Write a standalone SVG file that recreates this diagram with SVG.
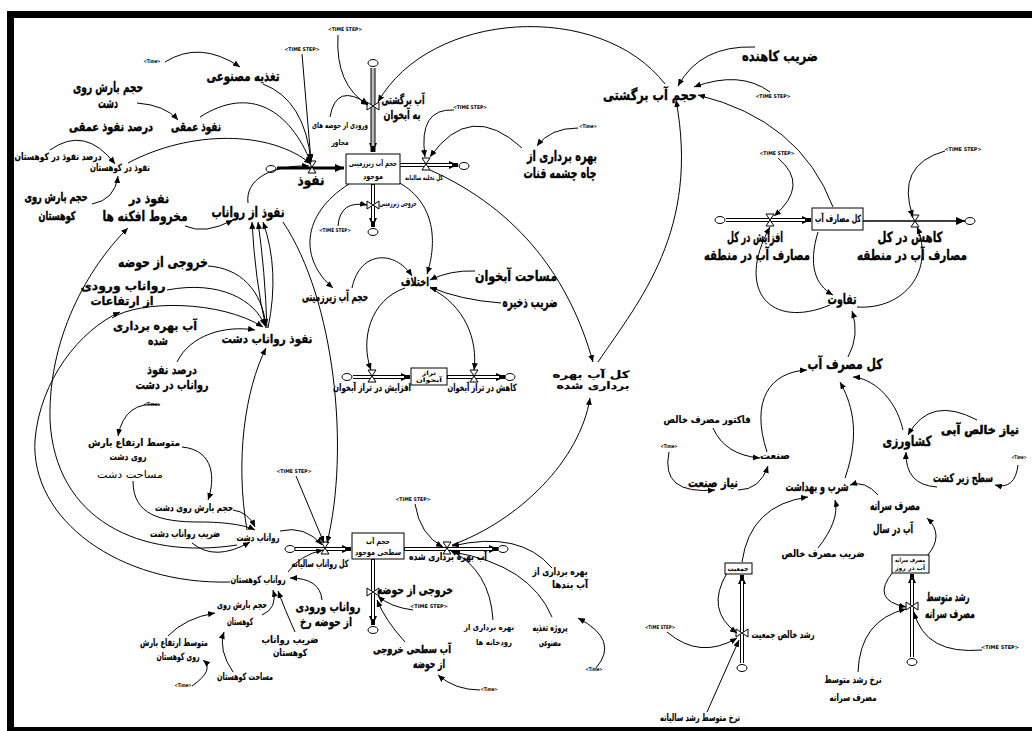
<svg xmlns="http://www.w3.org/2000/svg" xmlns:xlink="http://www.w3.org/1999/xlink" width="1032" height="731" viewBox="0 0 1032 731">
<style>
text{font-family:"DejaVu Sans",sans-serif;font-weight:bold;text-anchor:middle;dominant-baseline:middle;fill:#000}
.L{font-size:14px;stroke:#000;stroke-width:0.35px}.M{font-size:12px;stroke:#000;stroke-width:0.3px}.S{font-size:10px;stroke:#000;stroke-width:0.15px}.X{font-size:8px}.T{font-size:5px}
.n{font-weight:normal;stroke:none}
.c{fill:none;stroke:#000;stroke-width:1;marker-end:url(#ah)}
.po{fill:none;stroke:#000;stroke-width:4}
.pi{fill:none;stroke:#fff;stroke-width:2}
.box{fill:#fff;stroke:#000;stroke-width:1}
</style>
<defs>
<marker id="ah" markerUnits="userSpaceOnUse" markerWidth="8" markerHeight="6" refX="7" refY="3" orient="auto"><path d="M0,0 L7,3 L0,6 z" fill="#000"/></marker>
<marker id="pa" markerUnits="userSpaceOnUse" markerWidth="10" markerHeight="8" refX="9" refY="4" orient="auto"><path d="M0,0 L9,4 L0,8 z" fill="#000"/></marker>
<path id="vh" d="M-4,-6 L4,-6 L-4,6 L4,6 Z" fill="#fff" stroke="#000" stroke-width="1"/>
<path id="vv" d="M-6,-4 L-6,4 L6,-4 L6,4 Z" fill="#fff" stroke="#000" stroke-width="1"/>
<ellipse id="cl" cx="0" cy="0" rx="5" ry="3.5" fill="#fff" stroke="#000" stroke-width="1"/>
</defs>
<rect width="1032" height="731" fill="#fff"/>
<g id="frame">
<rect x="7" y="11" width="1025" height="7" fill="#000"/>
<rect x="7" y="11" width="7" height="720" fill="#000"/>
<rect x="7" y="727" width="1025" height="4" fill="#000"/>
</g>

<g id="flows">
<path d="M277,168 L344,168" stroke="#000" stroke-width="3" fill="none" marker-end="url(#pa)"/>
<path d="M373,68 L373,152" stroke="#000" stroke-width="5" fill="none" marker-end="url(#pa)"/>
<path d="M373,68 L373,146" stroke="#bbb" stroke-width="3" fill="none"/>
<path class="po" d="M400,165 L458,165" marker-end="url(#pa)"/><path class="pi" d="M400,165 L452,165"/>
<path class="po" d="M373,184 L373,227" marker-end="url(#pa)"/><path class="pi" d="M373,185 L373,221"/>
<path class="po" d="M353,377 L410,377" marker-end="url(#pa)"/><path class="pi" d="M353,377 L404,377"/>
<path class="po" d="M447,377 L505,377" marker-end="url(#pa)"/><path class="pi" d="M448,377 L499,377"/>
<path class="po" d="M295,549 L351,549" marker-end="url(#pa)"/><path class="pi" d="M295,549 L345,549"/>
<path class="po" d="M404,549 L498,549" marker-end="url(#pa)"/><path class="pi" d="M405,549 L492,549"/>
<path class="po" d="M373,559 L373,625" marker-end="url(#pa)"/><path class="pi" d="M373,560 L373,619"/>
<path class="po" d="M726,220 L811,220" marker-end="url(#pa)"/><path class="pi" d="M726,220 L805,220"/>
<path d="M863,221 L965,221" stroke="#000" stroke-width="1.5" fill="none" marker-end="url(#pa)"/>
<path class="po" d="M742,663 L742,575" marker-end="url(#pa)"/><path class="pi" d="M742,663 L742,581"/>
<path class="po" d="M912,657 L912,574" marker-end="url(#pa)"/><path class="pi" d="M912,657 L912,580"/>
<use href="#cl" x="271" y="169"/><use href="#cl" x="373" y="63"/><use href="#cl" x="464" y="166"/><use href="#cl" x="373" y="232"/>
<use href="#cl" x="347" y="377"/><use href="#cl" x="510" y="377"/><use href="#cl" x="290" y="549"/><use href="#cl" x="503" y="549"/>
<use href="#cl" x="373" y="630"/><use href="#cl" x="720" y="220"/><use href="#cl" x="970" y="221"/><use href="#cl" x="742" y="668"/><use href="#cl" x="912" y="662"/>
<use href="#vh" x="312" y="167"/><use href="#vv" x="373" y="106"/><use href="#vh" x="426" y="164"/><use href="#vv" x="373" y="205"/>
<use href="#vh" x="372" y="376"/><use href="#vh" x="474" y="376"/><use href="#vh" x="325" y="548"/><use href="#vh" x="447" y="548"/>
<use href="#vv" x="373" y="592"/><use href="#vh" x="770" y="220"/><use href="#vh" x="915" y="221"/><use href="#vv" x="742" y="633"/><use href="#vv" x="912" y="606"/>
</g>

<g id="connectors">
<path class="c" d="M165,62 Q200,40 240,67"/>
<path class="c" d="M263,84 Q305,100 311,162"/>
<path class="c" d="M302,54 L311,161"/>
<path class="c" d="M338,35 Q335,85 368,105"/>
<path class="c" d="M330,117 Q336,82 368,104"/>
<path class="c" d="M665,84 C600,0 430,10 378,102"/>
<path class="c" d="M200,117 C250,85 290,110 311,163"/>
<path class="c" d="M128,163 C190,130 270,130 311,164"/>
<path class="c" d="M248,203 C245,180 270,165 309,166"/>
<path class="c" d="M137,103 Q165,105 178,120"/>
<path class="c" d="M50,150 Q85,125 115,164"/>
<path class="c" d="M92,204 Q115,200 118,176"/>
<path class="c" d="M185,226 Q205,235 233,220"/>
<path class="c" d="M266,328 Q255,280 252,222"/>
<path class="c" d="M267,328 Q265,270 258,222"/>
<path class="c" d="M268,328 Q280,270 263,222"/>
<path class="c" d="M208,266 C240,268 262,290 266,326"/>
<path class="c" d="M167,290 C220,280 255,300 265,326"/>
<path class="c" d="M112,318 C140,300 220,300 263,327"/>
<path class="c" d="M177,362 C190,335 225,325 255,330"/>
<path class="c" d="M247,530 C235,460 245,390 266,348"/>
<path class="c" d="M283,222 C335,300 350,450 327,543"/>
<path class="c" d="M230,582 C120,585 30,520 35,440 C40,380 80,330 120,312"/>
<path class="c" d="M237,545 C140,560 55,520 50,420 C48,330 95,260 128,228"/>
<path class="c" d="M160,405 Q125,400 118,436"/>
<path class="c" d="M182,447 C215,450 215,480 208,500"/>
<path class="c" d="M133,481 C133,515 160,522 200,522 C225,522 245,525 255,530"/>
<path class="c" d="M233,510 Q248,512 255,527"/>
<path class="c" d="M192,543 Q215,562 250,542"/>
<path class="c" d="M280,531 Q305,525 322,545"/>
<path class="c" d="M288,572 Q300,555 323,550"/>
<path class="c" d="M296,476 L324,543"/>
<path class="c" d="M262,615 Q278,608 273,590"/>
<path class="c" d="M322,600 Q320,578 290,578"/>
<path class="c" d="M295,632 Q285,610 278,591"/>
<path class="c" d="M233,672 Q218,650 224,632"/>
<path class="c" d="M168,636 Q185,618 215,613"/>
<path class="c" d="M192,686 Q215,670 203,660"/>
<path class="c" d="M349,184 C300,215 300,260 333,288"/>
<path class="c" d="M398,182 C440,205 435,250 427,274"/>
<path class="c" d="M352,288 C360,250 395,250 412,276"/>
<path class="c" d="M475,271 Q450,270 430,280"/>
<path class="c" d="M501,303 Q460,300 430,287"/>
<path class="c" d="M405,288 C370,300 360,340 371,370"/>
<path class="c" d="M430,288 C465,305 478,340 474,370"/>
<path class="c" d="M338,226 Q340,200 367,205"/>
<path class="c" d="M522,148 Q470,100 430,157"/>
<path class="c" d="M454,110 Q418,108 425,157"/>
<path class="c" d="M578,128 Q550,128 537,146"/>
<path class="c" d="M430,170 C520,210 570,280 593,362"/>
<path class="c" d="M598,362 C640,300 700,230 676,100"/>
<path class="c" d="M452,545 C520,520 580,460 590,398"/>
<path class="c" d="M415,504 Q420,535 443,547"/>
<path class="c" d="M552,568 Q520,530 452,546"/>
<path class="c" d="M493,620 Q490,570 450,550"/>
<path class="c" d="M552,617 Q530,565 453,552"/>
<path class="c" d="M596,668 Q620,640 578,618"/>
<path class="c" d="M413,610 Q390,607 378,596"/>
<path class="c" d="M405,642 Q385,620 377,600"/>
<path class="c" d="M480,690 Q455,690 438,675"/>
<path class="c" d="M755,47 Q700,45 678,86"/>
<path class="c" d="M770,92 Q740,70 694,87"/>
<path class="c" d="M833,207 Q800,120 698,95"/>
<path class="c" d="M778,158 Q810,185 774,216"/>
<path class="c" d="M945,151 Q895,165 913,217"/>
<path class="c" d="M818,232 C808,265 815,285 833,295"/>
<path class="c" d="M830,305 C770,330 735,290 770,227"/>
<path class="c" d="M857,307 C905,310 935,270 917,227"/>
<path class="c" d="M848,357 Q860,335 852,311"/>
<path class="c" d="M767,452 C750,400 770,372 807,370"/>
<path class="c" d="M845,478 C862,430 850,400 840,382"/>
<path class="c" d="M903,430 C895,395 870,378 853,377"/>
<path class="c" d="M713,428 Q725,455 760,458"/>
<path class="c" d="M977,420 Q930,395 908,435"/>
<path class="c" d="M937,487 Q905,485 906,452"/>
<path class="c" d="M1018,465 Q1015,490 995,485"/>
<path class="c" d="M669,452 Q660,495 715,490"/>
<path class="c" d="M738,490 Q760,490 768,466"/>
<path class="c" d="M742,562 Q750,505 808,497"/>
<path class="c" d="M818,548 Q840,520 835,500"/>
<path class="c" d="M878,495 Q865,480 850,485"/>
<path class="c" d="M927,556 Q945,535 927,518"/>
<path class="c" d="M727,573 Q705,610 737,633"/>
<path class="c" d="M667,632 Q700,660 737,638"/>
<path class="c" d="M707,712 L739,640"/>
<path class="c" d="M893,572 Q870,600 906,607"/>
<path class="c" d="M858,672 Q860,620 906,609"/>
<path class="c" d="M982,650 Q925,655 914,612"/>
</g>

<g id="stock-groundwater"><rect class="box" x="346" y="154" width="54" height="30"/><text class="X" x="373" y="163" textLength="48" lengthAdjust="spacingAndGlyphs">حجم آب زیرزمینی</text><text class="X" x="373" y="176" textLength="20" lengthAdjust="spacingAndGlyphs">موجود</text></g>
<g id="stock-totaluse"><rect class="box" x="812" y="208" width="51" height="22"/><text class="S" x="838" y="219" textLength="46" lengthAdjust="spacingAndGlyphs">کل مصارف آب</text></g>
<g id="stock-level"><rect class="box" x="411" y="368" width="36" height="17"/><text style="font-size:6px" x="429" y="373" textLength="14" lengthAdjust="spacingAndGlyphs">تراز</text><text style="font-size:6px" x="429" y="380" textLength="26" lengthAdjust="spacingAndGlyphs">آبخوان</text></g>
<g id="stock-surface"><rect class="box" x="352" y="533" width="52" height="26"/><text class="X" x="378" y="541" textLength="24" lengthAdjust="spacingAndGlyphs">حجم آب</text><text class="X" x="378" y="552" textLength="46" lengthAdjust="spacingAndGlyphs">سطحی موجود</text></g>
<g id="stock-pop"><rect class="box" x="725" y="563" width="27" height="11"/><text style="font-size:7px" x="738" y="569" textLength="21" lengthAdjust="spacingAndGlyphs">جمعیت</text></g>
<g id="stock-percap"><rect class="box" x="892" y="555" width="37" height="18"/><text style="font-size:6px" x="910" y="560" textLength="30" lengthAdjust="spacingAndGlyphs">مصرف سرانه</text><text style="font-size:6px" x="910" y="568" textLength="30" lengthAdjust="spacingAndGlyphs">آب در روز</text></g>

<g id="labels">
<g id="n1"><text class="L" x="243" y="77" textLength="73" lengthAdjust="spacingAndGlyphs">تغذیه مصنوعی</text></g>
<g id="n2"><text class="L" x="108" y="88" textLength="70" lengthAdjust="spacingAndGlyphs">حجم بارش روی</text><text class="L" x="108" y="104" textLength="20" lengthAdjust="spacingAndGlyphs">دشت</text></g>
<g id="n3"><text class="M" x="196" y="127" textLength="50" lengthAdjust="spacingAndGlyphs" style="stroke-width:0.5px">نفوذ عمقی</text></g>
<g id="n4"><text class="M" x="111" y="127" textLength="84" lengthAdjust="spacingAndGlyphs" style="stroke-width:0.5px">درصد نفوذ عمقی</text></g>
<g id="n5"><text class="S" x="58" y="157" textLength="87" lengthAdjust="spacingAndGlyphs">درصد نفوذ در کوهستان</text></g>
<g id="n6"><text class="S" x="120" y="168" textLength="60" lengthAdjust="spacingAndGlyphs">نفوذ در کوهستان</text></g>
<g id="n7"><text class="M" x="56" y="197" textLength="63" lengthAdjust="spacingAndGlyphs" style="stroke-width:0.5px">حجم بارش روی</text><text class="M" x="57" y="216" textLength="37" lengthAdjust="spacingAndGlyphs" style="stroke-width:0.5px">کوهستان</text></g>
<g id="n8"><text class="M" x="149" y="199" textLength="40" lengthAdjust="spacingAndGlyphs" style="stroke-width:0.5px">نفوذ در</text><text class="L" x="145" y="217" textLength="85" lengthAdjust="spacingAndGlyphs">مخروط افکنه ها</text></g>
<g id="n9"><text class="L" x="248" y="213" textLength="73" lengthAdjust="spacingAndGlyphs">نفوذ از رواناب</text></g>
<g id="n10"><text class="L" x="311" y="181" textLength="27" lengthAdjust="spacingAndGlyphs">نفوذ</text></g>
<g id="n11"><text class="M" x="403" y="100" textLength="43" lengthAdjust="spacingAndGlyphs">آب برگشتی</text><text class="M" x="402" y="115" textLength="37" lengthAdjust="spacingAndGlyphs">به آبخوان</text></g>
<g id="n12"><text style="font-size:8px" x="340" y="125" textLength="56" lengthAdjust="spacingAndGlyphs">ورودی از حوضه های</text><text style="font-size:8px" x="340" y="142" textLength="17" lengthAdjust="spacingAndGlyphs">مجاور</text></g>
<g id="n13"><text class="L" x="562" y="157" textLength="70" lengthAdjust="spacingAndGlyphs">بهره برداری از</text><text class="L" x="560" y="174" textLength="73" lengthAdjust="spacingAndGlyphs">چاه چشمه قنات</text></g>
<g id="n14"><text style="font-size:7px" x="424" y="178" textLength="38" lengthAdjust="spacingAndGlyphs">کل تخلیه سالیانه</text></g>
<g id="n15"><text style="font-size:8px" x="398" y="203" textLength="37" lengthAdjust="spacingAndGlyphs">خروجی زیرزمینی</text></g>
<g id="n16"><text class="L" x="650" y="96" textLength="94" lengthAdjust="spacingAndGlyphs">حجم آب برگشتی</text></g>
<g id="n17"><text class="L" x="780" y="57" textLength="76" lengthAdjust="spacingAndGlyphs">ضریب کاهنده</text></g>
<g id="n18"><text class="L" x="755" y="238" textLength="56" lengthAdjust="spacingAndGlyphs">افزایش در کل</text><text class="L" x="757" y="256" textLength="106" lengthAdjust="spacingAndGlyphs">مصارف آب در منطقه</text></g>
<g id="n19"><text class="L" x="910" y="238" textLength="65" lengthAdjust="spacingAndGlyphs">کاهش در کل</text><text class="L" x="912" y="256" textLength="110" lengthAdjust="spacingAndGlyphs">مصارف آب در منطقه</text></g>
<g id="n20"><text class="L" x="842" y="300" textLength="29" lengthAdjust="spacingAndGlyphs">تفاوت</text></g>
<g id="n21"><text class="L" x="845" y="365" textLength="75" lengthAdjust="spacingAndGlyphs">کل مصرف آب</text></g>
<g id="n22"><text class="S" x="707" y="420" textLength="87" lengthAdjust="spacingAndGlyphs">فاکتور مصرف خالص</text></g>
<g id="n23"><text class="S" x="775" y="456" textLength="30" lengthAdjust="spacingAndGlyphs">صنعت</text></g>
<g id="n24"><text class="M" x="980" y="430" textLength="78" lengthAdjust="spacingAndGlyphs" style="stroke-width:0.6px">نیاز خالص آبی</text></g>
<g id="n25"><text class="L" x="907" y="442" textLength="49" lengthAdjust="spacingAndGlyphs">کشاورزی</text></g>
<g id="n26"><text class="M" x="963" y="478" textLength="60" lengthAdjust="spacingAndGlyphs">سطح زیر کشت</text></g>
<g id="n27"><text class="M" x="713" y="483" textLength="50" lengthAdjust="spacingAndGlyphs">نیاز صنعت</text></g>
<g id="n28"><text class="M" x="817" y="487" textLength="63" lengthAdjust="spacingAndGlyphs">شرب و بهداشت</text></g>
<g id="n29"><text class="M" x="895" y="506" textLength="50" lengthAdjust="spacingAndGlyphs">مصرف سرانه</text><text class="M" x="893" y="529" textLength="40" lengthAdjust="spacingAndGlyphs">آب در سال</text></g>
<g id="n30"><text class="S" x="823" y="554" textLength="83" lengthAdjust="spacingAndGlyphs">ضریب مصرف خالص</text></g>
<g id="n31"><text class="S" x="783" y="635" textLength="63" lengthAdjust="spacingAndGlyphs">رشد خالص جمعیت</text></g>
<g id="n32"><text class="M" x="948" y="597" textLength="43" lengthAdjust="spacingAndGlyphs">رشد متوسط</text><text class="M" x="950" y="614" textLength="50" lengthAdjust="spacingAndGlyphs">مصرف سرانه</text></g>
<g id="n33"><text class="S" x="853" y="680" textLength="57" lengthAdjust="spacingAndGlyphs">نرخ رشد متوسط</text><text class="S" x="853" y="698" textLength="47" lengthAdjust="spacingAndGlyphs">مصرف سرانه</text></g>
<g id="n34"><text class="S" x="700" y="718" textLength="80" lengthAdjust="spacingAndGlyphs">نرخ متوسط رشد سالیانه</text></g>
<g id="n35"><text class="L" x="163" y="263" textLength="90" lengthAdjust="spacingAndGlyphs">خروجی از حوضه</text></g>
<g id="n36"><text class="M" x="123" y="286" textLength="85" lengthAdjust="spacingAndGlyphs">رواناب ورودی</text><text class="M" x="122" y="301" textLength="63" lengthAdjust="spacingAndGlyphs">از ارتفاعات</text></g>
<g id="n37"><text class="M" x="155" y="326" textLength="84" lengthAdjust="spacingAndGlyphs">آب بهره برداری</text><text class="M" x="158" y="341" textLength="20" lengthAdjust="spacingAndGlyphs">شده</text></g>
<g id="n38"><text class="M" x="267" y="339" textLength="91" lengthAdjust="spacingAndGlyphs">نفوذ رواناب دشت</text></g>
<g id="n39"><text class="M" x="172" y="370" textLength="50" lengthAdjust="spacingAndGlyphs">درصد نفوذ</text><text class="M" x="172" y="385" textLength="73" lengthAdjust="spacingAndGlyphs">رواناب در دشت</text></g>
<g id="n40"><text class="S" x="134" y="443" textLength="92" lengthAdjust="spacingAndGlyphs">متوسط ارتفاع بارش</text><text class="S" x="128" y="457" textLength="37" lengthAdjust="spacingAndGlyphs">روی دشت</text></g>
<g id="n41"><text class="S n" x="130" y="475" textLength="66" lengthAdjust="spacingAndGlyphs">مساحت دشت</text></g>
<g id="n42"><text class="S" x="194" y="508" textLength="78" lengthAdjust="spacingAndGlyphs">حجم بارش روی دشت</text></g>
<g id="n43"><text class="S" x="185" y="534" textLength="70" lengthAdjust="spacingAndGlyphs">ضریب رواناب دشت</text></g>
<g id="n44"><text class="S" x="258" y="538" textLength="43" lengthAdjust="spacingAndGlyphs">رواناب دشت</text></g>
<g id="n45"><text class="S" x="320" y="564" textLength="57" lengthAdjust="spacingAndGlyphs">کل رواناب سالیانه</text></g>
<g id="n46"><text class="S" x="258" y="580" textLength="55" lengthAdjust="spacingAndGlyphs">رواناب کوهستان</text></g>
<g id="n47"><text class="S" x="242" y="605" textLength="50" lengthAdjust="spacingAndGlyphs">حجم بارش روی</text><text class="S" x="240" y="622" textLength="26" lengthAdjust="spacingAndGlyphs">کوهستان</text></g>
<g id="n48"><text class="M" x="328" y="607" textLength="65" lengthAdjust="spacingAndGlyphs">رواناب ورودی</text><text class="M" x="326" y="622" textLength="52" lengthAdjust="spacingAndGlyphs">از حوضه رخ</text></g>
<g id="n49"><text class="S" x="290" y="640" textLength="57" lengthAdjust="spacingAndGlyphs">ضریب رواناب</text><text class="S" x="290" y="653" textLength="34" lengthAdjust="spacingAndGlyphs">کوهستان</text></g>
<g id="n50"><text class="S" x="174" y="643" textLength="68" lengthAdjust="spacingAndGlyphs">متوسط ارتفاع بارش</text><text class="S" x="178" y="657" textLength="43" lengthAdjust="spacingAndGlyphs">روی کوهستان</text></g>
<g id="n51"><text class="S" x="245" y="677" textLength="56" lengthAdjust="spacingAndGlyphs">مساحت کوهستان</text></g>
<g id="n52"><text class="M" x="335" y="297" textLength="66" lengthAdjust="spacingAndGlyphs">حجم آب زیرزمینی</text></g>
<g id="n53"><text class="M" x="415" y="282" textLength="28" lengthAdjust="spacingAndGlyphs">اختلاف</text></g>
<g id="n54"><text class="L" x="516" y="277" textLength="82" lengthAdjust="spacingAndGlyphs">مساحت آبخوان</text></g>
<g id="n55"><text class="L" x="530" y="303" textLength="55" lengthAdjust="spacingAndGlyphs">ضریب ذخیره</text></g>
<g id="n56"><text class="S" x="372" y="388" textLength="78" lengthAdjust="spacingAndGlyphs">افزایش در تراز آبخوان</text></g>
<g id="n57"><text class="S" x="482" y="388" textLength="69" lengthAdjust="spacingAndGlyphs">کاهش در تراز آبخوان</text></g>
<g id="n58"><text class="S" x="591" y="375" textLength="77" lengthAdjust="spacingAndGlyphs">کل آب بهره</text><text class="S" x="593" y="386" textLength="73" lengthAdjust="spacingAndGlyphs">برداری شده</text></g>
<g id="n59"><text class="S" x="448" y="557" textLength="78" lengthAdjust="spacingAndGlyphs">آب بهره برداری شده</text></g>
<g id="n60"><text class="M" x="415" y="590" textLength="76" lengthAdjust="spacingAndGlyphs">خروجی از حوضه</text></g>
<g id="n61"><text style="font-size:11px;stroke:#000;stroke-width:0.4px" x="412" y="650" textLength="78" lengthAdjust="spacingAndGlyphs">آب سطحی خروجی</text><text class="M" x="429" y="664" textLength="32" lengthAdjust="spacingAndGlyphs">از حوضه</text></g>
<g id="n62"><text style="font-size:8px" x="489" y="627" textLength="50" lengthAdjust="spacingAndGlyphs">بهره برداری از</text><text style="font-size:8px" x="494" y="642" textLength="36" lengthAdjust="spacingAndGlyphs">رودخانه ها</text></g>
<g id="n63"><text class="S" x="550" y="628" textLength="35" lengthAdjust="spacingAndGlyphs">پروژه تغذیه</text><text class="S" x="550" y="643" textLength="22" lengthAdjust="spacingAndGlyphs">مصنوعی</text></g>
<g id="n64"><text class="S" x="560" y="572" textLength="55" lengthAdjust="spacingAndGlyphs">بهره برداری از</text><text class="S" x="570" y="585" textLength="36" lengthAdjust="spacingAndGlyphs">آب بندها</text></g>
</g>

<g id="shadows">
<text class="T" x="152" y="62" textLength="17" lengthAdjust="spacingAndGlyphs">&lt;Time&gt;</text>
<text class="T" x="152" y="405" textLength="17" lengthAdjust="spacingAndGlyphs">&lt;Time&gt;</text>
<text class="T" x="183" y="686" textLength="17" lengthAdjust="spacingAndGlyphs">&lt;Time&gt;</text>
<text class="T" x="588" y="127" textLength="18" lengthAdjust="spacingAndGlyphs">&lt;Time&gt;</text>
<text class="T" x="489" y="690" textLength="17" lengthAdjust="spacingAndGlyphs">&lt;Time&gt;</text>
<text class="T" x="594" y="670" textLength="17" lengthAdjust="spacingAndGlyphs">&lt;Time&gt;</text>
<text class="T" x="669" y="447" textLength="17" lengthAdjust="spacingAndGlyphs">&lt;Time&gt;</text>
<text class="T" x="1019" y="458" textLength="15" lengthAdjust="spacingAndGlyphs">&lt;Time&gt;</text>
<text class="T" x="302" y="50" textLength="35" lengthAdjust="spacingAndGlyphs">&lt;TIME STEP&gt;</text>
<text class="T" x="345" y="30" textLength="34" lengthAdjust="spacingAndGlyphs">&lt;TIME STEP&gt;</text>
<text class="T" x="335" y="231" textLength="32" lengthAdjust="spacingAndGlyphs">&lt;TIME STEP&gt;</text>
<text class="T" x="470" y="108" textLength="34" lengthAdjust="spacingAndGlyphs">&lt;TIME STEP&gt;</text>
<text class="T" x="294" y="472" textLength="35" lengthAdjust="spacingAndGlyphs">&lt;TIME STEP&gt;</text>
<text class="T" x="413" y="500" textLength="35" lengthAdjust="spacingAndGlyphs">&lt;TIME STEP&gt;</text>
<text class="T" x="429" y="607" textLength="38" lengthAdjust="spacingAndGlyphs">&lt;TIME STEP&gt;</text>
<text class="T" x="660" y="628" textLength="30" lengthAdjust="spacingAndGlyphs">&lt;TIME STEP&gt;</text>
<text class="T" x="773" y="97" textLength="35" lengthAdjust="spacingAndGlyphs">&lt;TIME STEP&gt;</text>
<text class="T" x="777" y="154" textLength="35" lengthAdjust="spacingAndGlyphs">&lt;TIME STEP&gt;</text>
<text class="T" x="963" y="150" textLength="37" lengthAdjust="spacingAndGlyphs">&lt;TIME STEP&gt;</text>
<text class="T" x="1000" y="648" textLength="38" lengthAdjust="spacingAndGlyphs">&lt;TIME STEP&gt;</text>
</g>
</svg>
